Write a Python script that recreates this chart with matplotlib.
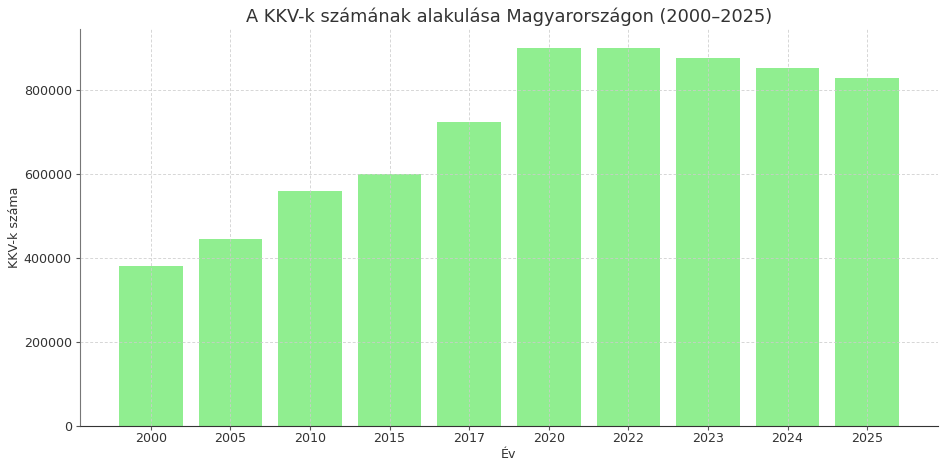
import matplotlib
matplotlib.use("Agg")
import matplotlib.pyplot as plt

years = ["2000", "2005", "2010", "2015", "2017", "2020", "2022", "2023", "2024", "2025"]
counts = [380000, 445000, 560000, 600000, 723000, 900000, 900000, 876000, 852000, 828000]

title = "A KKV-k számának alakulása Magyarországon (2000–2025)"
xlabel = "Év"
ylabel = "KKV-k száma"

plt.rcParams['font.family'] = ['DejaVu Sans']
txt = '#333333'
sc = 0.91

fig = plt.figure(figsize=(9.46, 4.69), dpi=100)
ax = fig.add_axes([80/946, 1 - 426/469, (938-80)/946, (426-29)/469])
ax.bar(years, counts, color='#90EE90', width=0.8, zorder=2)
ax.grid(True, linestyle='--', color='#cccccc', linewidth=0.7, alpha=0.8, zorder=3,
        dashes=(3, 2))
ax.set_axisbelow(False)
for s in ['top', 'right']:
    ax.spines[s].set_visible(False)
ax.spines['left'].set_color('#777777')
ax.spines['bottom'].set_color('#333333')
ax.tick_params(colors='#555555', labelcolor=txt, labelsize=10*sc, length=3)
ax.tick_params(axis='x', pad=1.5)
ax.tick_params(axis='y', pad=3)
ax.set_title(title, fontsize=14*sc, color=txt, pad=5)
ax.set_xlabel(xlabel, fontsize=10*sc, color=txt, labelpad=2)
ax.set_ylabel(ylabel, fontsize=10*sc, color=txt, labelpad=2)
ax.ticklabel_format(axis='y', style='plain')
fig.savefig("out.png", dpi=100)
